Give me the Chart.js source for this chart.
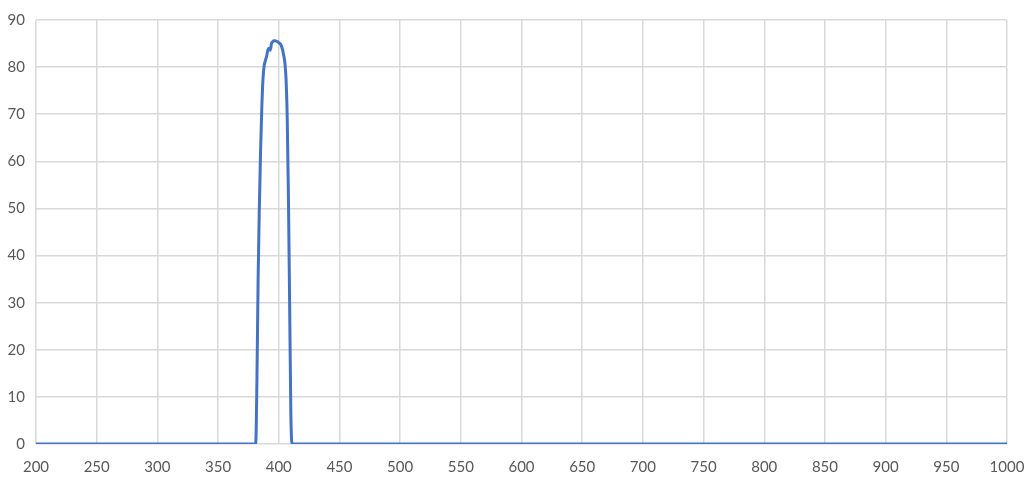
<!DOCTYPE html>
<html lang="en">
<head>
  <meta charset="UTF-8">
  <title>Spectrum</title>
  <script src="https://cdn.jsdelivr.net/npm/chart.js"></script>
  <style>
    body {
      margin: 0;
      background: #ffffff;
    }
    #wrap {
      width: 1029px;
      height: 478px;
    }
  </style>
</head>
<body>
  <div id="wrap">
    <canvas id="chart" width="1029" height="478"></canvas>
  </div>

  <script>
    // wavelength (nm) and transmission (%)
    const wavelengths = [200, 381, 382, 383, 384, 385, 386, 387, 388, 389, 390, 391, 392, 393,
      394, 395, 396, 397, 398, 399, 400, 401, 402, 403, 404, 405, 406, 407, 408, 409, 410, 411, 1000];
    const transmission = [0, 0, 13, 35, 50, 62, 71, 77.5, 80.3, 81.4, 82.3, 83.6, 84, 83.6,
      85, 85.4, 85.6, 85.6, 85.5, 85.4, 85.2, 85, 84.6, 83.8, 82.6, 81, 77.5, 69, 52, 29, 6, 0, 0];

    const yTicks = { min: 0, max: 90, step: 10 };
    const xTicks = { min: 200, max: 1000, step: 50 };

    const points = wavelengths.map((w, i) => ({ x: w, y: transmission[i] }));

    new Chart(document.getElementById("chart").getContext("2d"), {
      type: "line",
      data: {
        datasets: [{
          data: points,
          borderColor: "#4472c4",
          borderWidth: 3,
          pointRadius: 0,
          fill: false,
          cubicInterpolationMode: "monotone"
        }]
      },
      options: {
        responsive: false,
        animation: false,
        layout: { padding: { top: 19, right: 22, left: 0, bottom: 0 } },
        plugins: {
          legend: { display: false },
          tooltip: { enabled: false }
        },
        scales: {
          x: {
            type: "linear",
            min: xTicks.min,
            max: xTicks.max,
            ticks: {
              stepSize: xTicks.step,
              color: "#595959",
              font: { family: "Lato", size: 15 },
              padding: 14,
              maxRotation: 0,
              callback: v => String(v)
            },
            grid: { color: "#d9d9d9", lineWidth: 1.5, drawTicks: false },
            border: { display: false },
            afterFit: s => { s.height = 34; s.paddingRight = 0; s.paddingLeft = 0; }
          },
          y: {
            min: yTicks.min,
            max: yTicks.max,
            ticks: {
              stepSize: yTicks.step,
              color: "#595959",
              font: { family: "Lato", size: 15 },
              padding: 11
            },
            grid: { color: "#d9d9d9", lineWidth: 1.5, drawTicks: false },
            border: { display: false },
            afterFit: s => { s.width = 36; }
          }
        }
      }
    });
  </script>
</body>
</html>
